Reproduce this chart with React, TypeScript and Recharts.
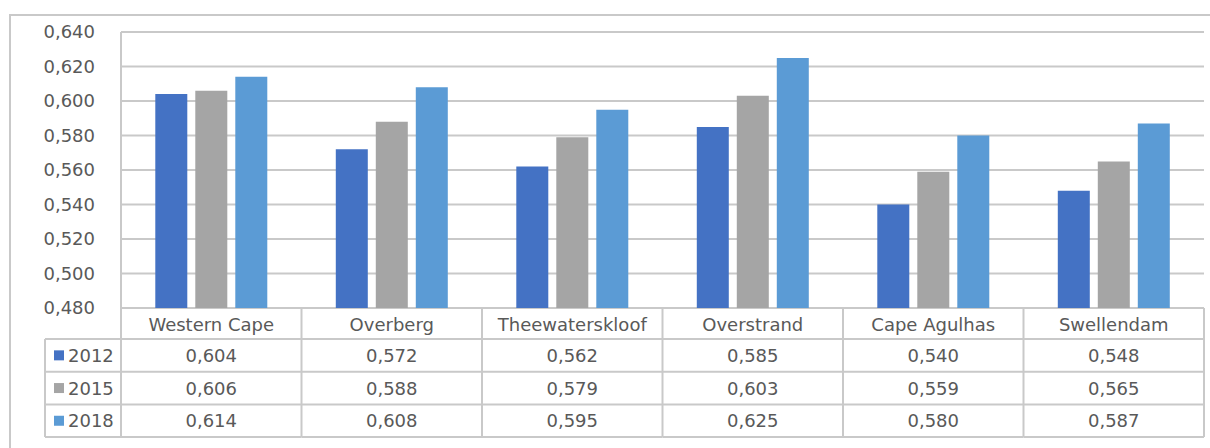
import { BarChart, Bar, XAxis, YAxis, CartesianGrid } from "recharts";

const categories = ["Western Cape", "Overberg", "Theewaterskloof", "Overstrand", "Cape Agulhas", "Swellendam"];
const values2012 = [0.604, 0.572, 0.562, 0.585, 0.54, 0.548];
const values2015 = [0.606, 0.588, 0.579, 0.603, 0.559, 0.565];
const values2018 = [0.614, 0.608, 0.595, 0.625, 0.58, 0.587];
const yTicks = [0.48, 0.5, 0.52, 0.54, 0.56, 0.58, 0.6, 0.62, 0.64];

const series = [
  { key: "y2012", name: "2012", values: values2012, color: "#4472C4" },
  { key: "y2015", name: "2015", values: values2015, color: "#A5A5A5" },
  { key: "y2018", name: "2018", values: values2018, color: "#5B9BD5" },
];

const data = categories.map((name, i) => {
  const row: Record<string, string | number> = { name };
  series.forEach((s) => (row[s.key] = s.values[i]));
  return row;
});

const FONT = "'DejaVu Sans', sans-serif";
const TEXT = "#595959";
const LINE = "#c9c9c9";
const LABEL_ROW = 31;
const DATA_ROW = 32.7;
const LEGEND_W = 76;

const fmt = (v: number) => v.toFixed(3).replace(".", ",");

const TableTick = (props: any) => {
  const { x, y, payload } = props;
  const i = payload.index ?? props.index;
  const half = payload.offset > 0 ? payload.offset : 90.25;
  const left = x - half;
  const right = x + half;
  const rowTop = (r: number) => y + LABEL_ROW + r * DATA_ROW;
  const bottom = rowTop(series.length);
  const lineStart = i === 0 ? left - LEGEND_W : left;

  return (
    <g fontFamily={FONT}>
      <line x1={right} x2={right} y1={y} y2={bottom} stroke={LINE} strokeWidth={2} />
      {i === 0 && <line x1={left} x2={left} y1={y} y2={bottom} stroke={LINE} strokeWidth={2} />}
      {i === 0 && (
        <line x1={left - LEGEND_W} x2={left - LEGEND_W} y1={rowTop(0)} y2={bottom} stroke={LINE} strokeWidth={2} />
      )}
      {series.map((_, r) => (
        <line key={r} x1={lineStart} x2={right} y1={rowTop(r)} y2={rowTop(r)} stroke={LINE} strokeWidth={2} />
      ))}
      <line x1={lineStart} x2={right} y1={bottom} y2={bottom} stroke={LINE} strokeWidth={2} />
      <text x={x} y={y + LABEL_ROW / 2 + 1} textAnchor="middle" dominantBaseline="central" fill={TEXT} fontSize={18}>
        {payload.value}
      </text>
      {series.map((s, r) => (
        <text
          key={s.key}
          x={x}
          y={rowTop(r) + DATA_ROW / 2}
          textAnchor="middle"
          dominantBaseline="central"
          fill={TEXT}
          fontSize={18}
        >
          {fmt(s.values[i])}
        </text>
      ))}
      {i === 0 &&
        series.map((s, r) => (
          <g key={s.key}>
            <rect x={left - LEGEND_W + 9} y={rowTop(r) + DATA_ROW / 2 - 5} width={10} height={10} fill={s.color} />
            <text
              x={left - LEGEND_W + 23}
              y={rowTop(r) + DATA_ROW / 2}
              dominantBaseline="central"
              fill={TEXT}
              fontSize={18}
            >
              {s.name}
            </text>
          </g>
        ))}
    </g>
  );
};

export default function App() {
  return (
    <div style={{ position: "absolute", left: 0, top: 0, width: 1210, height: 448, background: "#fff", overflow: "hidden" }}>
      <div
        style={{
          position: "absolute",
          left: 9,
          top: 14,
          width: 1300,
          height: 500,
          borderLeft: `2px solid ${LINE}`,
          borderTop: `2px solid ${LINE}`,
        }}
      />
      <div style={{ position: "absolute", left: 0, top: 0 }}>
        <BarChart
          width={1210}
          height={448}
          data={data}
          margin={{ top: 32, right: 6, bottom: 0, left: 0 }}
          barCategoryGap="19%"
          barGap={8}
        >
          <CartesianGrid vertical={false} stroke={LINE} strokeWidth={2} />
          <XAxis
            dataKey="name"
            height={140}
            axisLine={false}
            tickLine={false}
            tickSize={0}
            tickMargin={0}
            interval={0}
            tick={<TableTick />}
          />
          <YAxis
            width={121}
            domain={[0.48, 0.64]}
            ticks={yTicks}
            interval={0}
            allowDataOverflow
            tickFormatter={fmt}
            tickLine={false}
            tickMargin={20}
            axisLine={{ stroke: LINE, strokeWidth: 2 }}
            tick={{ fill: TEXT, fontSize: 18, fontFamily: FONT }}
          />
          <YAxis
            yAxisId="right"
            orientation="right"
            width={0}
            domain={[0.48, 0.64]}
            tick={false}
            tickLine={false}
            axisLine={{ stroke: LINE, strokeWidth: 2 }}
          />
          {series.map((s) => (
            <Bar key={s.key} dataKey={s.key} name={s.name} fill={s.color} isAnimationActive={false} />
          ))}
        </BarChart>
      </div>
    </div>
  );
}
